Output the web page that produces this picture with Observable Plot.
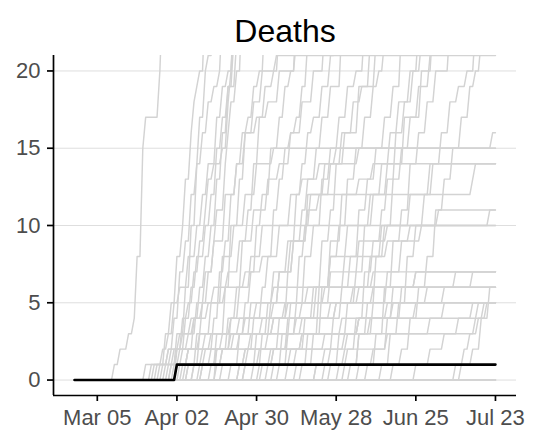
<!DOCTYPE html>
<html><head><meta charset="utf-8">
<script src="https://cdn.jsdelivr.net/npm/d3@7"></script>
<script src="https://cdn.jsdelivr.net/npm/@observablehq/plot@0.6"></script>
<style>body{margin:0;background:#fff} svg{display:block}</style>
</head><body><div id="chart"></div>
<script>
// ---- data (day offsets from startDate, "day:cumulativeDeaths" change points) ----
const startDate = "2020-02-26";
const lastDay = 148;
const title = "Deaths";
const xTicks = ["2020-03-05","2020-04-02","2020-04-30","2020-05-28","2020-06-25","2020-07-23"];
const yTicks = [0, 5, 10, 15, 20];
const xLimits = [-7.4, 155.4];
const yLimits = [-1, 21];
const highlightSeries = "36:1";
const countySeries = [
  "14:1 16:2 19:3 21:4 22:8 24:15 25:17 29:17 30:20 31:25",
  "30:1 32:3 34:5 36:8 38:10 39:13 41:16 42:18 43:19 44:20 46:25",
  "31:1 33:2 35:4 37:7 39:9 41:12 43:14 44:17 46:20 47:21 49:26",
  "34:1 36:3 39:6 41:10 43:14 45:16 47:18 49:19 51:20 52:24",
  "36:2 38:4 40:5 42:7 44:9 46:11 47:13 49:14 52:15 54:18 55:20 56:23",
  "38:1 40:2 42:4 44:6 46:8 48:10 50:13 52:16 54:19 57:22",
  "40:1 43:3 45:5 47:7 49:9 50:11 53:14 54:16 55:18 57:20 59:25",
  "44:1 46:2 49:4 51:7 53:9 55:12 57:14 59:16 61:17 63:19 65:20 67:24",
  "48:1 50:3 53:6 55:10 58:13 60:16 63:18 66:20 71:21",
  "50:1 52:2 55:4 57:6 59:9 61:11 63:14 65:17 67:19 70:20 72:23",
  "55:1 58:3 60:5 62:7 64:10 66:12 69:15 72:17 74:19 76:20 78:24",
  "58:1 61:2 63:4 66:6 68:8 70:11 72:13 74:15 76:16 78:17 80:19 82:22",
  "63:1 66:3 69:5 72:7 75:9 78:12 80:14 82:16 84:17 87:19 90:21 92:24",
  "66:1 69:2 72:4 75:7 77:9 80:11 82:13 85:15 87:17 90:19 94:23",
  "72:1 75:3 78:5 81:8 84:10 87:13 90:15 93:17 96:19 99:20 102:23",
  "75:1 78:2 81:4 84:6 87:9 90:11 92:14 95:16 98:18 101:19 104:22",
  "80:1 84:3 87:6 90:8 93:10 96:13 99:15 102:17 105:19 107:20 109:22",
  "85:1 88:2 91:4 94:6 97:8 100:11 103:13 106:15 109:17 112:19 115:23",
  "90:1 93:3 96:5 99:7 102:10 105:12 108:14 111:16 114:18 118:20 121:23",
  "93:1 96:2 99:4 102:7 105:9 108:11 110:13 113:16 116:18 119:20 122:22",
  "97:1 100:3 103:5 106:8 109:10 112:13 115:15 118:17 121:19 125:21 126:24",
  "103:1 106:3 109:6 112:9 115:11 118:14 121:16 124:18 127:20 132:23",
  "108:1 111:3 114:5 117:8 120:10 123:12 126:14 129:16 132:18 135:19 138:20 141:23",
  "112:1 115:2 118:4 121:6 124:8 127:11 130:13 133:15 136:17 139:19 141:20 143:22",
  "60:1 64:3 68:5 72:7 77:9 82:11 86:12 90:14 100:15 147:16",
  "40:1 44:3 48:5 52:8 56:10 60:12 64:14 70:15",
  "78:1 82:3 86:6 90:9 94:12 100:13 105:14",
  "95:1 100:3 105:5 110:7 115:9 122:10 146:11",
  "50:2 54:4 58:6 62:8 66:10",
  "70:1 73:3 76:5 79:8 81:10 83:12 140:13 141:14",
  "100:1 105:2 110:4 115:6 140:7",
  "65:1 70:2 75:4 80:5 88:6 120:7",
  "45:1 50:2 56:3 62:5 70:6",
  "120:1 125:2 130:3 135:4 140:5",
  "36:1 40:2 46:3 55:4 70:5",
  "58:1 65:2 75:3 141:4 144:5",
  "42:1 50:2 96:3 104:4 112:6 120:7",
  "85:1 90:2 95:3 100:4 130:5",
  "28:1 35:2 48:3 60:4 75:5 90:7 100:9 110:10",
  "32:1 40:2 55:3 70:4 85:6 95:8 108:10 118:12 125:14",
  "34:1 38:2 44:3 70:4 90:5 100:6 105:7",
  "37:1 60:2 80:3 100:4 120:5",
  "39:1 45:2 52:3 58:4 64:5 70:7 76:9 82:12 88:14 94:16 100:19 106:22",
  "42:1 48:2 62:3 78:4 92:5 105:6",
  "45:1 52:2 58:3 66:4 74:5 82:6 90:8 96:10 104:12 110:14 116:17 122:20 126:23",
  "52:1 60:2 68:3 80:4 92:5 98:6 104:8 110:9 118:10 128:11",
  "60:1 70:2 80:3 94:4 110:5 130:6",
  "68:1 76:2 88:3 100:4 112:5 124:6 134:7",
  "88:1 95:2 110:3 125:4 142:5",
  "134:1 137:2 139:3 142:4 145:5",
  "136:1 140:2 143:4 146:6",
  "",
  "",
  "33:1 36:2 40:3 43:5 46:7 49:9 53:12 57:14 60:16 64:17 68:18 72:20 78:22",
  "35:1 37:2 39:4 41:6 43:8 46:10 48:12 50:15 52:17 54:19 56:22",
  "29:1 31:2 33:3 35:5 37:6 40:8 43:10 45:12 47:14 50:17 52:19 54:20 56:24",
  "25:1 34:2 38:3 42:4 47:5 53:6 60:7 66:8 72:10 76:12 80:13 86:14 92:15",
  "27:1 33:2 37:3 41:4 45:5 49:6 54:7 58:9 63:11 68:13 72:14 76:16 80:18 84:20 88:23",
  "",
  ""
];

// ---- build ----
const t0 = Date.parse(startDate);
const day = d => new Date(t0 + d * 864e5);
function parse(str, id) {
  const pts = [{id, date: day(0), v: 0}];
  let prev = 0, lastD = 0;
  for (const tok of str.trim().split(/\s+/).filter(Boolean)) {
    const [d, v] = tok.split(":").map(Number);
    if (d - 1 > lastD) pts.push({id, date: day(d - 1), v: prev});
    pts.push({id, date: day(d), v});
    prev = v; lastD = d;
  }
  if (lastD < lastDay) pts.push({id, date: day(lastDay), v: prev});
  return pts;
}
const grayData = countySeries.flatMap((s, i) => parse(s, i));
const blackData = parse(highlightSeries, "highlight");

const chart = Plot.plot({
  width: 537, height: 437,
  marginTop: 55, marginBottom: 42, marginLeft: 53, marginRight: 21,
  style: {fontFamily: "'Liberation Sans', Arial, Helvetica, sans-serif", background: "white", overflow: "visible"},
  x: {type: "utc", domain: xLimits.map(day)},
  y: {domain: yLimits},
  marks: [
    Plot.ruleY(yTicks, {stroke: "#dedede", strokeWidth: 1}),
    Plot.line(grayData, {x: "date", y: "v", z: "id", stroke: "#d3d3d3", strokeWidth: 1.45, clip: true}),
    Plot.line(blackData, {x: "date", y: "v", stroke: "black", strokeWidth: 2.6, clip: true}),
    Plot.ruleX([day(xLimits[0])], {stroke: "black", strokeWidth: 1.7}),
    Plot.ruleY([yLimits[0]], {stroke: "black", strokeWidth: 1.7}),
    Plot.axisY({ticks: yTicks, tickSize: 6, tickPadding: 7, fontSize: 22, fill: "#4d4d4d", stroke: "black", strokeWidth: 1.7, label: null}),
    Plot.axisX({ticks: xTicks.map(s => new Date(s)), tickFormat: d3.utcFormat("%b %d"), tickSize: 6, tickPadding: 8, fontSize: 22, fill: "#4d4d4d", stroke: "black", strokeWidth: 1.7, label: null}),
    Plot.text([title], {frameAnchor: "top", dy: -24, fontSize: 32, lineAnchor: "middle", fill: "black"})
  ]
});
document.getElementById("chart").append(chart);
</script>
</body></html>
